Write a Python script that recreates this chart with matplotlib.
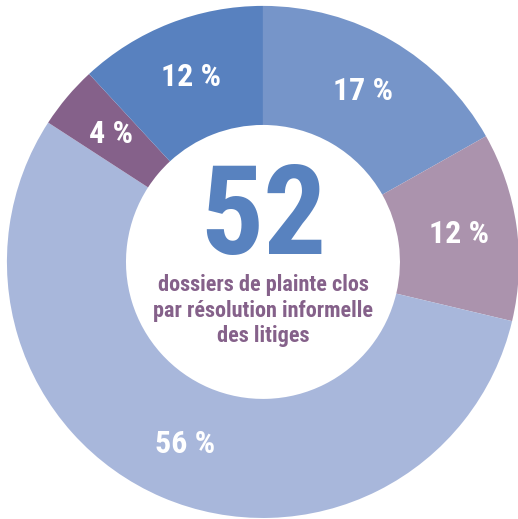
import matplotlib
matplotlib.use("Agg")
import matplotlib.pyplot as plt
import numpy as np

categories = ["A", "B", "C", "D", "E"]
values = [17, 12, 56, 4, 12]
labels = ["17 %", "12 %", "56 %", "4 %", "12 %"]
colors = ["#7695c9", "#ab93ad", "#a8b7db", "#85618a", "#5881bf"]
center_value = "52"
center_text = "dossiers de plainte clos\npar résolution informelle\ndes litiges"

fam = ["Roboto Condensed", "DejaVu Sans"]

fig = plt.figure(figsize=(5.18, 5.19), dpi=100)
ax = fig.add_axes([0, 0, 1, 1])

wedges, _ = ax.pie(values, colors=colors, startangle=90, counterclock=False,
                   radius=1.0, wedgeprops=dict(width=1 - 0.535, edgecolor="none"))
ax.set_xlim(-1.027, 0.996)
ax.set_ylim(-1.004, 1.023)
ax.set_aspect("equal")
ax.axis("off")

for w, lab in zip(wedges, labels):
    th = np.deg2rad((w.theta1 + w.theta2) / 2)
    r = 0.775
    ax.text(r * np.cos(th), r * np.sin(th), lab, ha="center", va="center",
            color="white", fontsize=23, fontweight="bold", family=fam)

ax.text(0, 0.165, center_value, ha="center", va="center", color="#5882bf",
        fontsize=90, fontweight="bold", family=fam)
ax.text(0, -0.19, center_text, ha="center", va="center", color="#85618a",
        fontsize=16, fontweight="bold", family=fam, linespacing=1.2)

fig.savefig("out.png", dpi=100)
